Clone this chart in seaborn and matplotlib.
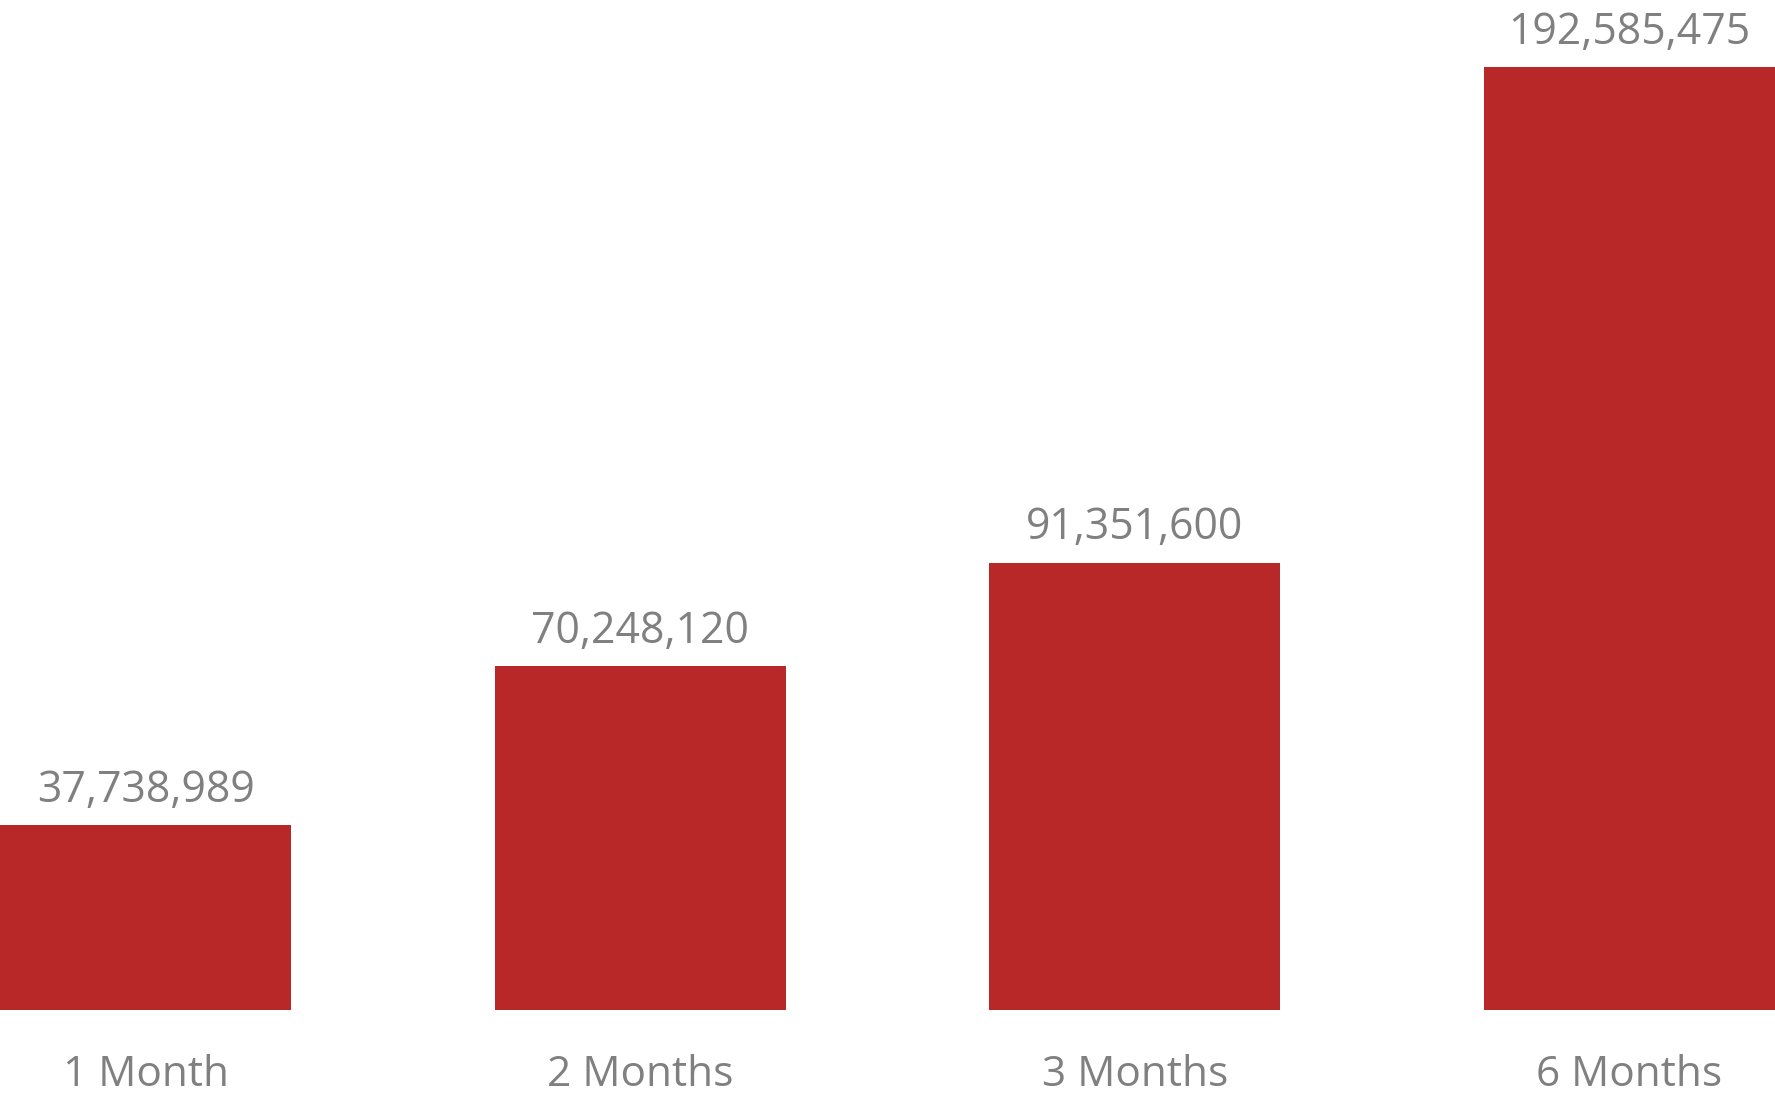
import matplotlib
matplotlib.use("Agg")
import matplotlib.pyplot as plt
import seaborn as sns
import pandas as pd

categories = ["1 Month", "2 Months", "3 Months", "6 Months"]
values = [37738989, 70248120, 91351600, 192585475]

sns.set_theme(style="white")
plt.rcParams['font.family'] = ['Open Sans', 'DejaVu Sans']

df = pd.DataFrame({"period": categories, "value": values})

fig = plt.figure(figsize=(17.75, 11.02), dpi=100)
ax = fig.add_axes([0, 92/1102, 1, 1010/1102])
sns.barplot(data=df, x="period", y="value", color="#B82828", saturation=1,
            width=0.589, ax=ax, linewidth=0)
ax.set_xlim(-0.2945, 3.2945)
ax.set_ylim(0, 1010/943*192585475)
for s in ax.spines.values():
    s.set_visible(False)
ax.set_yticks([])
ax.set_xlabel("")
ax.set_ylabel("")
ax.tick_params(axis="x", length=0, pad=32, labelsize=30.5, labelcolor="#808080")
for c in ax.containers:
    ax.bar_label(c, labels=[f"{v:,}" for v in values], padding=9,
                 fontsize=30.8, color="#808080")
fig.savefig("out.png", dpi=100)
